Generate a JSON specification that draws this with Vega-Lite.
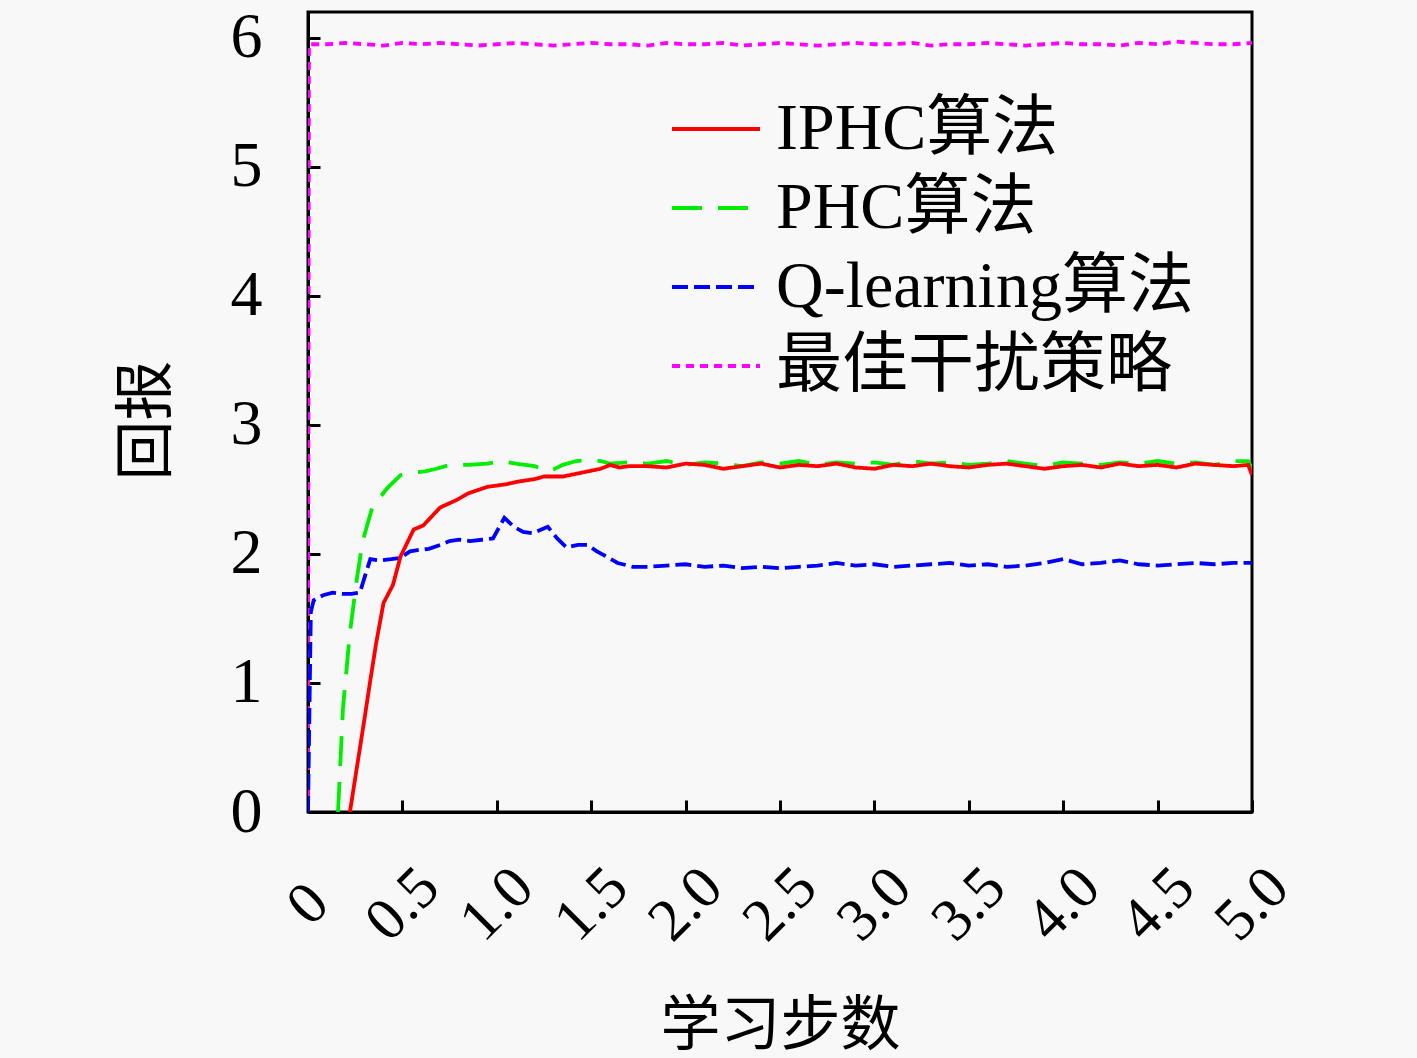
{
  "$schema": "https://vega.github.io/schema/vega-lite/v6.json",
  "width": 944,
  "height": 800,
  "autosize": "none",
  "padding": {"left": 308, "top": 12, "right": 165, "bottom": 246},
  "background": "#f8f8f8",
  "data": {
    "values": [
      {"s": "最佳干扰策略", "x": 0, "y": 0},
      {"s": "最佳干扰策略", "x": 0.005, "y": 5.95},
      {"s": "最佳干扰策略", "x": 0.1, "y": 5.95},
      {"s": "最佳干扰策略", "x": 0.2, "y": 5.96},
      {"s": "最佳干扰策略", "x": 0.3, "y": 5.95},
      {"s": "最佳干扰策略", "x": 0.4, "y": 5.94},
      {"s": "最佳干扰策略", "x": 0.5, "y": 5.96},
      {"s": "最佳干扰策略", "x": 0.6, "y": 5.95},
      {"s": "最佳干扰策略", "x": 0.7, "y": 5.96},
      {"s": "最佳干扰策略", "x": 0.8, "y": 5.95},
      {"s": "最佳干扰策略", "x": 0.9, "y": 5.94},
      {"s": "最佳干扰策略", "x": 1.0, "y": 5.95},
      {"s": "最佳干扰策略", "x": 1.1, "y": 5.96},
      {"s": "最佳干扰策略", "x": 1.2, "y": 5.95},
      {"s": "最佳干扰策略", "x": 1.3, "y": 5.94},
      {"s": "最佳干扰策略", "x": 1.4, "y": 5.95},
      {"s": "最佳干扰策略", "x": 1.5, "y": 5.96},
      {"s": "最佳干扰策略", "x": 1.6, "y": 5.95},
      {"s": "最佳干扰策略", "x": 1.7, "y": 5.95},
      {"s": "最佳干扰策略", "x": 1.8, "y": 5.94},
      {"s": "最佳干扰策略", "x": 1.9, "y": 5.96},
      {"s": "最佳干扰策略", "x": 2.0, "y": 5.95},
      {"s": "最佳干扰策略", "x": 2.1, "y": 5.95},
      {"s": "最佳干扰策略", "x": 2.2, "y": 5.96},
      {"s": "最佳干扰策略", "x": 2.3, "y": 5.94},
      {"s": "最佳干扰策略", "x": 2.4, "y": 5.95},
      {"s": "最佳干扰策略", "x": 2.5, "y": 5.96},
      {"s": "最佳干扰策略", "x": 2.6, "y": 5.95},
      {"s": "最佳干扰策略", "x": 2.7, "y": 5.94},
      {"s": "最佳干扰策略", "x": 2.8, "y": 5.95},
      {"s": "最佳干扰策略", "x": 2.9, "y": 5.96},
      {"s": "最佳干扰策略", "x": 3.0, "y": 5.95},
      {"s": "最佳干扰策略", "x": 3.1, "y": 5.95},
      {"s": "最佳干扰策略", "x": 3.2, "y": 5.96},
      {"s": "最佳干扰策略", "x": 3.3, "y": 5.94},
      {"s": "最佳干扰策略", "x": 3.4, "y": 5.95},
      {"s": "最佳干扰策略", "x": 3.5, "y": 5.95},
      {"s": "最佳干扰策略", "x": 3.6, "y": 5.96},
      {"s": "最佳干扰策略", "x": 3.7, "y": 5.95},
      {"s": "最佳干扰策略", "x": 3.8, "y": 5.94},
      {"s": "最佳干扰策略", "x": 3.9, "y": 5.95},
      {"s": "最佳干扰策略", "x": 4.0, "y": 5.96},
      {"s": "最佳干扰策略", "x": 4.1, "y": 5.95},
      {"s": "最佳干扰策略", "x": 4.2, "y": 5.95},
      {"s": "最佳干扰策略", "x": 4.3, "y": 5.94},
      {"s": "最佳干扰策略", "x": 4.4, "y": 5.96},
      {"s": "最佳干扰策略", "x": 4.5, "y": 5.95},
      {"s": "最佳干扰策略", "x": 4.6, "y": 5.97},
      {"s": "最佳干扰策略", "x": 4.7, "y": 5.96},
      {"s": "最佳干扰策略", "x": 4.8, "y": 5.95},
      {"s": "最佳干扰策略", "x": 4.9, "y": 5.95},
      {"s": "最佳干扰策略", "x": 5.0, "y": 5.96},

      {"s": "Q-learning算法", "x": 0, "y": 0},
      {"s": "Q-learning算法", "x": 0.015, "y": 1.55},
      {"s": "Q-learning算法", "x": 0.03, "y": 1.64},
      {"s": "Q-learning算法", "x": 0.08, "y": 1.68},
      {"s": "Q-learning算法", "x": 0.13, "y": 1.70},
      {"s": "Q-learning算法", "x": 0.18, "y": 1.69},
      {"s": "Q-learning算法", "x": 0.23, "y": 1.69},
      {"s": "Q-learning算法", "x": 0.275, "y": 1.70},
      {"s": "Q-learning算法", "x": 0.3, "y": 1.82},
      {"s": "Q-learning算法", "x": 0.33, "y": 1.96},
      {"s": "Q-learning算法", "x": 0.38, "y": 1.95},
      {"s": "Q-learning算法", "x": 0.44, "y": 1.96},
      {"s": "Q-learning算法", "x": 0.49, "y": 1.97},
      {"s": "Q-learning算法", "x": 0.54, "y": 2.02},
      {"s": "Q-learning算法", "x": 0.58, "y": 2.03},
      {"s": "Q-learning算法", "x": 0.64, "y": 2.04},
      {"s": "Q-learning算法", "x": 0.7, "y": 2.07},
      {"s": "Q-learning算法", "x": 0.75, "y": 2.10},
      {"s": "Q-learning算法", "x": 0.8, "y": 2.11},
      {"s": "Q-learning算法", "x": 0.86, "y": 2.10},
      {"s": "Q-learning算法", "x": 0.92, "y": 2.11},
      {"s": "Q-learning算法", "x": 0.98, "y": 2.12},
      {"s": "Q-learning算法", "x": 1.04, "y": 2.28},
      {"s": "Q-learning算法", "x": 1.09, "y": 2.21},
      {"s": "Q-learning算法", "x": 1.14, "y": 2.17},
      {"s": "Q-learning算法", "x": 1.19, "y": 2.16},
      {"s": "Q-learning算法", "x": 1.27, "y": 2.21},
      {"s": "Q-learning算法", "x": 1.32, "y": 2.12},
      {"s": "Q-learning算法", "x": 1.37, "y": 2.05},
      {"s": "Q-learning算法", "x": 1.43, "y": 2.07},
      {"s": "Q-learning算法", "x": 1.48, "y": 2.07},
      {"s": "Q-learning算法", "x": 1.53, "y": 2.02},
      {"s": "Q-learning算法", "x": 1.58, "y": 1.98},
      {"s": "Q-learning算法", "x": 1.64, "y": 1.93},
      {"s": "Q-learning算法", "x": 1.72, "y": 1.90},
      {"s": "Q-learning算法", "x": 1.8, "y": 1.90},
      {"s": "Q-learning算法", "x": 1.9, "y": 1.91},
      {"s": "Q-learning算法", "x": 2.0, "y": 1.92},
      {"s": "Q-learning算法", "x": 2.1, "y": 1.90},
      {"s": "Q-learning算法", "x": 2.2, "y": 1.91},
      {"s": "Q-learning算法", "x": 2.3, "y": 1.89},
      {"s": "Q-learning算法", "x": 2.4, "y": 1.90},
      {"s": "Q-learning算法", "x": 2.5, "y": 1.89},
      {"s": "Q-learning算法", "x": 2.6, "y": 1.90},
      {"s": "Q-learning算法", "x": 2.7, "y": 1.91},
      {"s": "Q-learning算法", "x": 2.8, "y": 1.93},
      {"s": "Q-learning算法", "x": 2.9, "y": 1.91},
      {"s": "Q-learning算法", "x": 3.0, "y": 1.92},
      {"s": "Q-learning算法", "x": 3.1, "y": 1.90},
      {"s": "Q-learning算法", "x": 3.2, "y": 1.91},
      {"s": "Q-learning算法", "x": 3.3, "y": 1.92},
      {"s": "Q-learning算法", "x": 3.4, "y": 1.93},
      {"s": "Q-learning算法", "x": 3.5, "y": 1.91},
      {"s": "Q-learning算法", "x": 3.6, "y": 1.92},
      {"s": "Q-learning算法", "x": 3.7, "y": 1.90},
      {"s": "Q-learning算法", "x": 3.8, "y": 1.91},
      {"s": "Q-learning算法", "x": 3.9, "y": 1.93},
      {"s": "Q-learning算法", "x": 4.0, "y": 1.96},
      {"s": "Q-learning算法", "x": 4.1, "y": 1.92},
      {"s": "Q-learning算法", "x": 4.2, "y": 1.93},
      {"s": "Q-learning算法", "x": 4.3, "y": 1.95},
      {"s": "Q-learning算法", "x": 4.4, "y": 1.92},
      {"s": "Q-learning算法", "x": 4.5, "y": 1.91},
      {"s": "Q-learning算法", "x": 4.6, "y": 1.92},
      {"s": "Q-learning算法", "x": 4.7, "y": 1.93},
      {"s": "Q-learning算法", "x": 4.8, "y": 1.92},
      {"s": "Q-learning算法", "x": 4.9, "y": 1.93},
      {"s": "Q-learning算法", "x": 5.0, "y": 1.93},

      {"s": "PHC算法", "x": 0.159, "y": 0},
      {"s": "PHC算法", "x": 0.185, "y": 0.8},
      {"s": "PHC算法", "x": 0.222, "y": 1.39},
      {"s": "PHC算法", "x": 0.26, "y": 1.82},
      {"s": "PHC算法", "x": 0.29, "y": 2.1},
      {"s": "PHC算法", "x": 0.34, "y": 2.36},
      {"s": "PHC算法", "x": 0.42, "y": 2.51},
      {"s": "PHC算法", "x": 0.49, "y": 2.61},
      {"s": "PHC算法", "x": 0.55, "y": 2.63},
      {"s": "PHC算法", "x": 0.62, "y": 2.64},
      {"s": "PHC算法", "x": 0.68, "y": 2.66},
      {"s": "PHC算法", "x": 0.75, "y": 2.69},
      {"s": "PHC算法", "x": 0.85, "y": 2.69},
      {"s": "PHC算法", "x": 0.95, "y": 2.70},
      {"s": "PHC算法", "x": 1.02, "y": 2.72},
      {"s": "PHC算法", "x": 1.1, "y": 2.70},
      {"s": "PHC算法", "x": 1.2, "y": 2.68},
      {"s": "PHC算法", "x": 1.28, "y": 2.64},
      {"s": "PHC算法", "x": 1.35, "y": 2.69},
      {"s": "PHC算法", "x": 1.42, "y": 2.72},
      {"s": "PHC算法", "x": 1.5, "y": 2.73},
      {"s": "PHC算法", "x": 1.55, "y": 2.72},
      {"s": "PHC算法", "x": 1.6, "y": 2.70},
      {"s": "PHC算法", "x": 1.7, "y": 2.71},
      {"s": "PHC算法", "x": 1.8, "y": 2.70},
      {"s": "PHC算法", "x": 1.9, "y": 2.72},
      {"s": "PHC算法", "x": 2.0, "y": 2.69},
      {"s": "PHC算法", "x": 2.1, "y": 2.71},
      {"s": "PHC算法", "x": 2.2, "y": 2.70},
      {"s": "PHC算法", "x": 2.3, "y": 2.68},
      {"s": "PHC算法", "x": 2.4, "y": 2.71},
      {"s": "PHC算法", "x": 2.5, "y": 2.70},
      {"s": "PHC算法", "x": 2.6, "y": 2.72},
      {"s": "PHC算法", "x": 2.7, "y": 2.69},
      {"s": "PHC算法", "x": 2.8, "y": 2.71},
      {"s": "PHC算法", "x": 2.9, "y": 2.70},
      {"s": "PHC算法", "x": 3.0, "y": 2.71},
      {"s": "PHC算法", "x": 3.1, "y": 2.69},
      {"s": "PHC算法", "x": 3.2, "y": 2.72},
      {"s": "PHC算法", "x": 3.3, "y": 2.70},
      {"s": "PHC算法", "x": 3.4, "y": 2.71},
      {"s": "PHC算法", "x": 3.5, "y": 2.69},
      {"s": "PHC算法", "x": 3.6, "y": 2.70},
      {"s": "PHC算法", "x": 3.7, "y": 2.72},
      {"s": "PHC算法", "x": 3.8, "y": 2.70},
      {"s": "PHC算法", "x": 3.9, "y": 2.68},
      {"s": "PHC算法", "x": 4.0, "y": 2.71},
      {"s": "PHC算法", "x": 4.1, "y": 2.70},
      {"s": "PHC算法", "x": 4.2, "y": 2.69},
      {"s": "PHC算法", "x": 4.3, "y": 2.71},
      {"s": "PHC算法", "x": 4.4, "y": 2.70},
      {"s": "PHC算法", "x": 4.5, "y": 2.72},
      {"s": "PHC算法", "x": 4.6, "y": 2.70},
      {"s": "PHC算法", "x": 4.7, "y": 2.71},
      {"s": "PHC算法", "x": 4.8, "y": 2.69},
      {"s": "PHC算法", "x": 4.9, "y": 2.72},
      {"s": "PHC算法", "x": 4.98, "y": 2.72},
      {"s": "PHC算法", "x": 5.0, "y": 2.66},

      {"s": "IPHC算法", "x": 0.222, "y": 0},
      {"s": "IPHC算法", "x": 0.3, "y": 0.73},
      {"s": "IPHC算法", "x": 0.33, "y": 1.02},
      {"s": "IPHC算法", "x": 0.36, "y": 1.3},
      {"s": "IPHC算法", "x": 0.4, "y": 1.62},
      {"s": "IPHC算法", "x": 0.45, "y": 1.76},
      {"s": "IPHC算法", "x": 0.49, "y": 1.98},
      {"s": "IPHC算法", "x": 0.56, "y": 2.19},
      {"s": "IPHC算法", "x": 0.61, "y": 2.22},
      {"s": "IPHC算法", "x": 0.7, "y": 2.36},
      {"s": "IPHC算法", "x": 0.79, "y": 2.42},
      {"s": "IPHC算法", "x": 0.85, "y": 2.47},
      {"s": "IPHC算法", "x": 0.95, "y": 2.52},
      {"s": "IPHC算法", "x": 1.05, "y": 2.54},
      {"s": "IPHC算法", "x": 1.11, "y": 2.56},
      {"s": "IPHC算法", "x": 1.2, "y": 2.58},
      {"s": "IPHC算法", "x": 1.25, "y": 2.60},
      {"s": "IPHC算法", "x": 1.35, "y": 2.60},
      {"s": "IPHC算法", "x": 1.45, "y": 2.63},
      {"s": "IPHC算法", "x": 1.55, "y": 2.66},
      {"s": "IPHC算法", "x": 1.6, "y": 2.69},
      {"s": "IPHC算法", "x": 1.65, "y": 2.67},
      {"s": "IPHC算法", "x": 1.7, "y": 2.68},
      {"s": "IPHC算法", "x": 1.8, "y": 2.68},
      {"s": "IPHC算法", "x": 1.9, "y": 2.67},
      {"s": "IPHC算法", "x": 2.0, "y": 2.70},
      {"s": "IPHC算法", "x": 2.1, "y": 2.69},
      {"s": "IPHC算法", "x": 2.2, "y": 2.66},
      {"s": "IPHC算法", "x": 2.3, "y": 2.68},
      {"s": "IPHC算法", "x": 2.4, "y": 2.70},
      {"s": "IPHC算法", "x": 2.5, "y": 2.67},
      {"s": "IPHC算法", "x": 2.6, "y": 2.69},
      {"s": "IPHC算法", "x": 2.7, "y": 2.68},
      {"s": "IPHC算法", "x": 2.8, "y": 2.70},
      {"s": "IPHC算法", "x": 2.9, "y": 2.67},
      {"s": "IPHC算法", "x": 3.0, "y": 2.66},
      {"s": "IPHC算法", "x": 3.1, "y": 2.69},
      {"s": "IPHC算法", "x": 3.2, "y": 2.68},
      {"s": "IPHC算法", "x": 3.3, "y": 2.70},
      {"s": "IPHC算法", "x": 3.4, "y": 2.68},
      {"s": "IPHC算法", "x": 3.5, "y": 2.67},
      {"s": "IPHC算法", "x": 3.6, "y": 2.69},
      {"s": "IPHC算法", "x": 3.7, "y": 2.70},
      {"s": "IPHC算法", "x": 3.8, "y": 2.68},
      {"s": "IPHC算法", "x": 3.9, "y": 2.66},
      {"s": "IPHC算法", "x": 4.0, "y": 2.68},
      {"s": "IPHC算法", "x": 4.1, "y": 2.69},
      {"s": "IPHC算法", "x": 4.2, "y": 2.67},
      {"s": "IPHC算法", "x": 4.3, "y": 2.70},
      {"s": "IPHC算法", "x": 4.4, "y": 2.68},
      {"s": "IPHC算法", "x": 4.5, "y": 2.69},
      {"s": "IPHC算法", "x": 4.6, "y": 2.67},
      {"s": "IPHC算法", "x": 4.7, "y": 2.70},
      {"s": "IPHC算法", "x": 4.8, "y": 2.69},
      {"s": "IPHC算法", "x": 4.9, "y": 2.68},
      {"s": "IPHC算法", "x": 4.98, "y": 2.69},
      {"s": "IPHC算法", "x": 5.0, "y": 2.61}
    ]
  },
  "mark": {"type": "line", "strokeWidth": 3.8, "clip": true},
  "encoding": {
    "x": {
      "field": "x",
      "type": "quantitative",
      "scale": {"domain": [0, 5], "nice": false, "zero": false},
      "axis": {
        "values": [0, 0.5, 1, 1.5, 2, 2.5, 3, 3.5, 4, 4.5, 5],
        "labelExpr": "datum.value == 0 ? '0' : format(datum.value, '.1f')",
        "labelAngle": -45,
        "labelAlign": "center",
        "labelBaseline": "middle",
        "labelPadding": 104,
        "labelFontSize": 60,
        "title": "学习步数",
        "titleX": 472,
        "titleY": 214,
        "titleBaseline": "middle",
        "titleAlign": "center"
      }
    },
    "y": {
      "field": "y",
      "type": "quantitative",
      "scale": {"domain": [0, 6.2], "nice": false},
      "axis": {
        "values": [0, 1, 2, 3, 4, 5, 6],
        "labelPadding": 58,
        "labelFontSize": 64,
        "labelBaseline": "middle",
        "title": "回报",
        "titleX": -161,
        "titleY": 408,
        "titleAngle": -90,
        "titleBaseline": "middle",
        "titleAlign": "center"
      }
    },
    "color": {
      "field": "s",
      "type": "nominal",
      "scale": {
        "domain": ["IPHC算法", "PHC算法", "Q-learning算法", "最佳干扰策略"],
        "range": ["#ff0000", "#00ee00", "#0000ff", "#ff00ff"]
      },
      "legend": {
        "title": null,
        "orient": "none",
        "legendX": 362,
        "legendY": 71,
        "symbolType": "stroke",
        "symbolSize": 7744,
        "symbolStrokeWidth": 3.8,
        "labelFontSize": 66,
        "labelOffset": 14,
        "rowPadding": 0,
        "labelLimit": 600
      }
    },
    "strokeDash": {
      "field": "s",
      "type": "nominal",
      "scale": {
        "domain": ["IPHC算法", "PHC算法", "Q-learning算法", "最佳干扰策略"],
        "range": [[1, 0], [30, 16], [16, 6], [8, 6]]
      },
      "legend": null
    }
  },
  "config": {
    "font": "Liberation Serif, Noto Sans CJK SC",
    "view": {"stroke": "black", "strokeWidth": 3},
    "axis": {
      "domainColor": "black",
      "domainWidth": 3,
      "tickColor": "black",
      "tickWidth": 3,
      "tickSize": -12,
      "grid": false,
      "labelColor": "black",
      "labelFont": "Liberation Serif, Noto Sans CJK SC",
      "titleFont": "Liberation Serif, Noto Sans CJK SC",
      "titleFontSize": 60,
      "titleFontWeight": "normal",
      "titleColor": "black",
      "labelOverlap": false
    },
    "legend": {
      "labelFont": "Liberation Serif, Noto Sans CJK SC",
      "labelColor": "black"
    }
  }
}
